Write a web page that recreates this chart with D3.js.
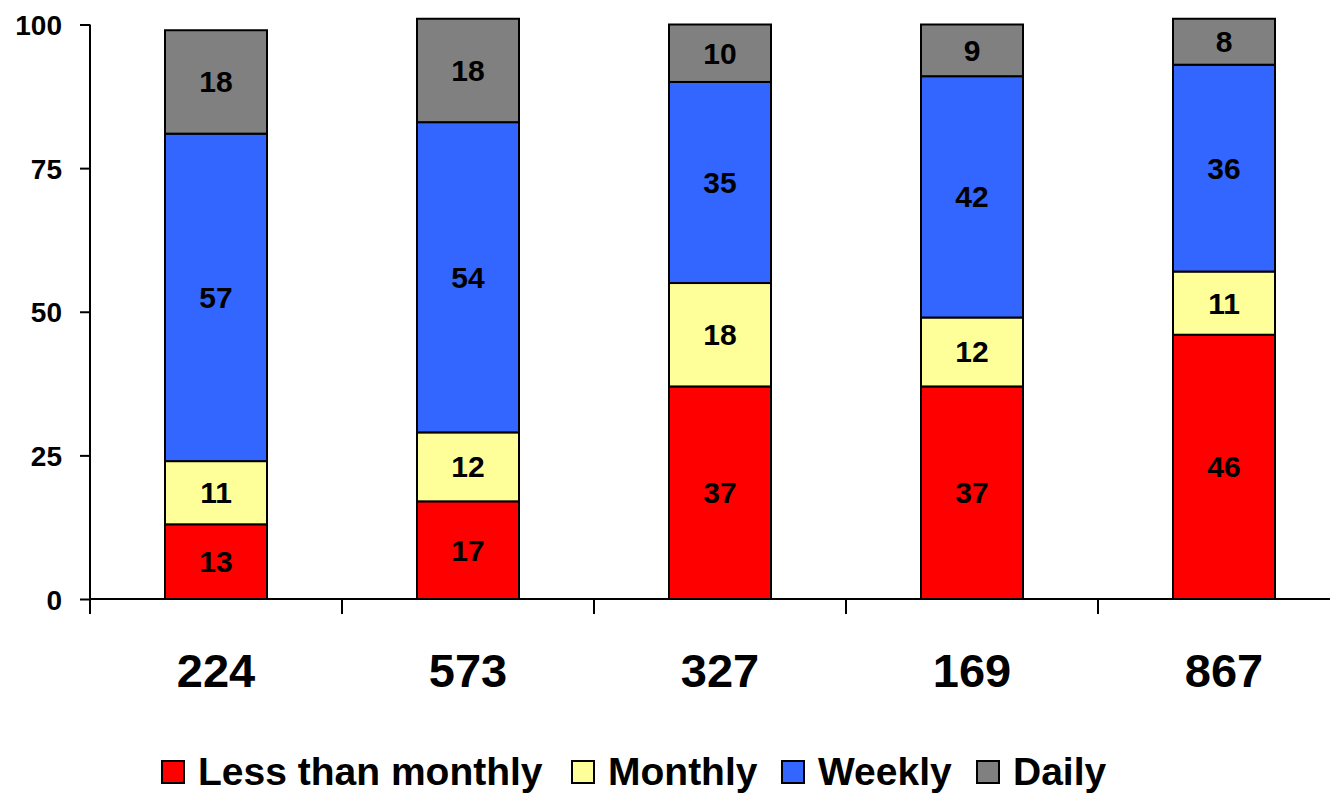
<!DOCTYPE html>
<html>
<head>
<meta charset="utf-8">
<script src="https://cdn.jsdelivr.net/npm/d3@7"></script>
<style>
  body { margin: 0; background: #fff; }
  text { font-family: "Liberation Sans", Arial, sans-serif; font-weight: bold; fill: #000; }
</style>
</head>
<body>
<div id="chart"></div>
<script>
// chart data
var categories = ['224', '573', '327', '169', '867'];
var seriesNames = ['Less than monthly', 'Monthly', 'Weekly', 'Daily'];
var lessThanMonthly = [13, 17, 37, 37, 46];
var monthly = [11, 12, 18, 12, 11];
var weekly = [57, 54, 35, 42, 36];
var daily = [18, 18, 10, 9, 8];
var yTicks = [0, 25, 50, 75, 100];
var colors = ['#FF0000', '#FFFF99', '#3366FF', '#808080'];

var width = 1330;
var height = 795;

// build rows for d3.stack
var rows = categories.map(function (c, i) {
    return {
        cat: c,
        'Less than monthly': lessThanMonthly[i],
        'Monthly': monthly[i],
        'Weekly': weekly[i],
        'Daily': daily[i]
    };
});

var stacked = d3.stack().keys(seriesNames)(rows);

var x = d3.scaleBand().domain(categories).range([90, 1350]).paddingInner(0).paddingOuter(0);
var y = d3.scaleLinear().domain([0, 100]).range([599, 24.5]);
var barWidth = 102;

var svg = d3.select('#chart')
    .append('svg')
    .attr('width', width)
    .attr('height', height);

// Bars
var layers = svg.selectAll('.layer')
    .data(stacked)
    .enter()
    .append('g')
    .attr('class', 'layer')
    .attr('fill', (d, i) => colors[i]);

layers.selectAll('rect')
    .data(d => d)
    .enter()
    .append('rect')
    .attr('x', d => x(d.data.cat) + x.bandwidth()/2 - barWidth/2)
    .attr('y', d => y(d[1]))
    .attr('width', barWidth)
    .attr('height', d => y(d[0]) - y(d[1]))
    .attr('stroke', '#000')
    .attr('stroke-width', 2);

// Bar labels
layers.selectAll('.lbl')
    .data(d => d)
    .enter()
    .append('text')
    .attr('class', 'lbl')
    .attr('x', d => x(d.data.cat) + x.bandwidth()/2)
    .attr('y', d => (y(d[0]) + y(d[1]))/2)
    .attr('text-anchor', 'middle')
    .attr('dominant-baseline', 'central')
    .style('font-size', '30px')
    .text(d => d[1] - d[0]);

// Y axis
var yAxis = svg.append('g')
    .attr('transform', 'translate(90,0)')
    .call(d3.axisLeft(y).tickValues(yTicks).tickSize(10).tickPadding(18));
yAxis.select('.domain').attr('stroke-width', 2).attr('d', 'M0,' + y(100) + 'V' + y(0));
yAxis.selectAll('.tick line').attr('stroke-width', 2);
yAxis.selectAll('.tick text')
    .style('font-size', '28px')
    .style('font-family', '"Liberation Sans", Arial, sans-serif')
    .style('font-weight', 'bold')
    .attr('dy', '0.36em');

// X axis line and band boundary ticks
var xAxis = svg.append('g')
    .attr('transform', 'translate(0,' + y(0) + ')');
xAxis.append('line')
    .attr('x1', 90).attr('x2', width)
    .attr('stroke', '#000').attr('stroke-width', 2);
xAxis.selectAll('.bt')
    .data(categories)
    .enter()
    .append('line')
    .attr('x1', d => x(d)).attr('x2', d => x(d))
    .attr('y1', 0).attr('y2', 15)
    .attr('stroke', '#000').attr('stroke-width', 2);

// Category labels
svg.selectAll('.cat')
    .data(categories)
    .enter()
    .append('text')
    .attr('x', d => x(d) + x.bandwidth()/2)
    .attr('y', 687)
    .attr('text-anchor', 'middle')
    .style('font-size', '47px')
    .text(d => d);

// Legend
var legendX = [162, 572, 782, 977];
var legend = svg.selectAll('.leg')
    .data(seriesNames)
    .enter()
    .append('g')
    .attr('transform', (d, i) => 'translate(' + legendX[i] + ',761)');
legend.append('rect')
    .attr('width', 22)
    .attr('height', 22)
    .attr('fill', (d, i) => colors[i])
    .attr('stroke', '#000')
    .attr('stroke-width', 2);
legend.append('text')
    .attr('x', 36)
    .attr('y', 24)
    .style('font-size', '39px')
    .text(d => d);
</script>
</body>
</html>
